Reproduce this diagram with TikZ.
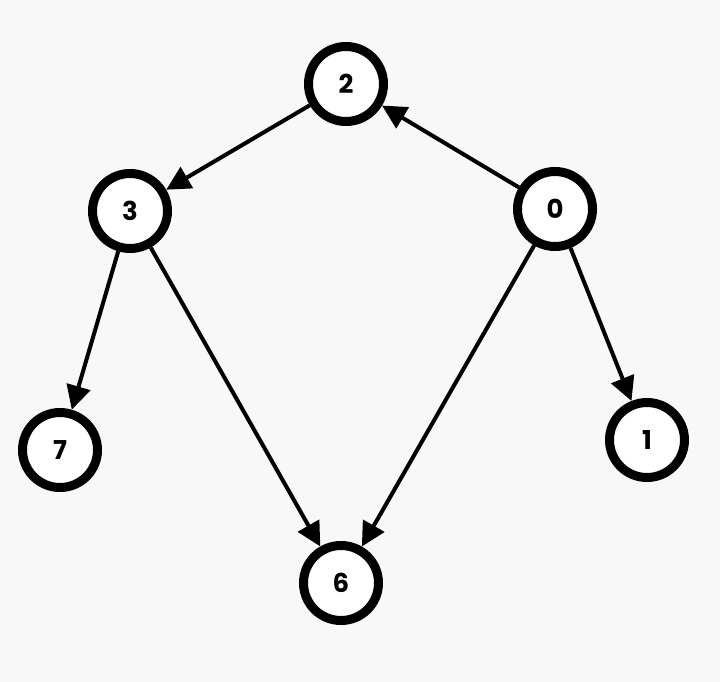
\documentclass[tikz,border=0pt]{standalone}
\usepackage{fontspec}
\setmainfont{Poppins}
\usetikzlibrary{arrows.meta}
\definecolor{bg}{HTML}{F8F8F8}
\tikzset{
  vtx/.style={circle, draw=black, fill=white, line width=9pt, minimum size=75pt, inner sep=0pt, font=\fontsize{26}{26}\selectfont\bfseries},
  edge/.style={line width=4pt, -{Triangle[length=24pt,width=24pt]}}
}
\begin{document}
\begin{tikzpicture}[x=1pt,y=-1pt]
\fill[bg] (0,0) rectangle (720,682);
\useasboundingbox (0,0) rectangle (720,682);
\node[vtx] (n2) at (346,84) {2};
\node[vtx] (n3) at (130,211) {3};
\node[vtx] (n0) at (555,209) {0};
\node[vtx] (n7) at (60,450) {7};
\node[vtx] (n1) at (647,440) {1};
\node[vtx] (n6) at (341,583) {6};
\draw[edge] (n2) -- (n3);
\draw[edge] (n0) -- (n2);
\draw[edge] (n3) -- (n7);
\draw[edge] (n3) -- (n6);
\draw[edge] (n0) -- (n6);
\draw[edge] (n0) -- (n1);
\end{tikzpicture}
\end{document}
